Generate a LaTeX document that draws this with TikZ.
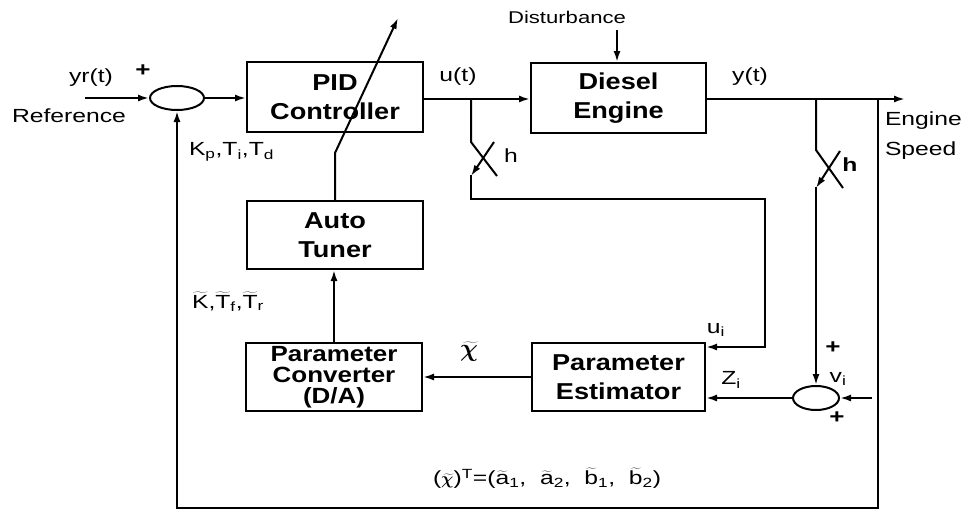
\documentclass[tikz,border=0pt]{standalone}
\usepackage{bm}
\usepackage{fontspec}
\setmainfont[FakeStretch=1.3]{Liberation Sans}
\newfontfamily\boxfont[FakeStretch=1.18]{Liberation Sans}
\usetikzlibrary{arrows.meta,calc,shapes.geometric}
\newcommand{\wt}[1]{$\widetilde{\mbox{#1}}$}
\begin{document}
\begin{tikzpicture}[x=1pt,y=-1pt,line width=2pt,
  arr/.style={-{Latex[length=11pt,width=7pt]}},
  blk/.style={draw,rectangle,inner sep=0pt,align=center,
    font=\boxfont\bfseries\fontsize{23}{29}\selectfont},
  sumj/.style={draw,ellipse,inner sep=0pt,minimum height=24pt},
  lab/.style={inner sep=0pt,font=\fontsize{19}{28}\selectfont},
  plus/.style={inner sep=0pt,font=\bfseries\fontsize{20}{20}\selectfont}]
\useasboundingbox (0,0) rectangle (971,514);
% blocks
\node[blk,minimum width=176pt,minimum height=70pt] (pid) at (335,97) {PID\\Controller};
\node[blk,minimum width=175pt,minimum height=70pt] (eng) at (618.5,98) {Diesel\\Engine};
\node[blk,minimum width=176pt,minimum height=68pt] (tun) at (335,235) {Auto\\Tuner};
\node[blk,minimum width=176pt,minimum height=68pt,
  font=\boxfont\bfseries\fontsize{22}{21}\selectfont] (conv) at (334,377) {Parameter\\Converter\\(D/A)};
\node[blk,minimum width=173pt,minimum height=68pt] (est) at (618.5,377) {Parameter\\Estimator};
\node[sumj,minimum width=54pt] (s1) at (177,98) {};
\node[sumj,minimum width=46pt] (s2) at (816,398) {};
% coordinates
\coordinate (refin) at (85,98);
\coordinate (yout) at (905,99);
\coordinate (bu) at (471,99);
\coordinate (by) at (816,99);
\coordinate (bf) at (878,99);
\coordinate (fb) at (878,508);
\coordinate (vin) at (872,398);
\coordinate (dist) at (617,30);
\coordinate (ui) at (765,347);
\coordinate (tip) at (398,18);
% connectors
\draw[arr] (refin) -- (s1.west);
\draw[arr] (s1.east) -- (s1.east -| pid.west);
\draw[arr] (pid.east |- bu) -- (eng.west |- bu);
\draw[arr] (eng.east |- yout) -- (yout);
\draw[arr] (dist) -- (dist |- eng.north);
\draw (bu) -- (471,142) -- (497,176);
\draw[arr] (494,142) -- (471,176);
\draw[arr] (471,175) -- (471,199) -- (765,199) -- (ui) -- (est.east |- ui);
\draw (by) -- (816,150) -- (843,188);
\draw[arr] (840,151) -- (816,188);
\draw[arr] (816,187) -- (s2.north);
\draw[arr] (bf) -- (fb) -| (s1.south);
\draw[arr] (vin) -- (s2.east);
\draw[arr] (s2.west) -- (s2.west -| est.east);
\draw[arr] (est.west) -- (est.west -| conv.east);
\draw[arr] (conv.north) -- (conv.north |- tun.south);
\draw[arr] (tun.north) -- (335,153) -- (tip);
% labels
\node[lab] (lyr) at (91,78) {yr(t)};
\node[plus] (lp1) at (143,71) {+};
\node[lab] (lref) at (69,116) {Reference};
\node[lab,anchor=west] (lk) at (188,152) {K\textsubscript{p},T\textsubscript{i},T\textsubscript{d}};
\node[lab] (lu) at (458,77) {u(t)};
\node[lab,font=\fontsize{17}{20}\selectfont] (ldist) at (567,17) {Disturbance};
\node[lab] (ly) at (750,77) {y(t)};
\node[lab,anchor=west,align=left,font=\fontsize{19}{30}\selectfont] (lspd) at (884,136) {Engine\\Speed};
\node[lab] (lh1) at (511,156) {h};
\node[lab,font=\bfseries\fontsize{19}{20}\selectfont] (lh2) at (850,165) {h};
\node[lab] (lkt) at (228,302) {\wt{K},\wt{T}\textsubscript{f},\wt{T}\textsubscript{r}};
\node[lab,font=\fontsize{26}{26}\selectfont] (lchi) at (469,352) {$\widetilde{\bm{\chi}}$};
\node[lab] (lui) at (716,330) {u\textsubscript{i}};
\node[lab] (lzi) at (731,380) {Z\textsubscript{i}};
\node[plus] (lp2) at (833,348) {+};
\node[lab] (lvi) at (838,379) {v\textsubscript{i}};
\node[plus] (lp3) at (837,418) {+};
\node[lab] (lform) at (547,478) {($\widetilde{\bm{\chi}}$)\textsuperscript{T}=(\wt{a}\textsubscript{1}, \ \wt{a}\textsubscript{2}, \ \wt{b}\textsubscript{1}, \ \wt{b}\textsubscript{2})};
\end{tikzpicture}
\end{document}
